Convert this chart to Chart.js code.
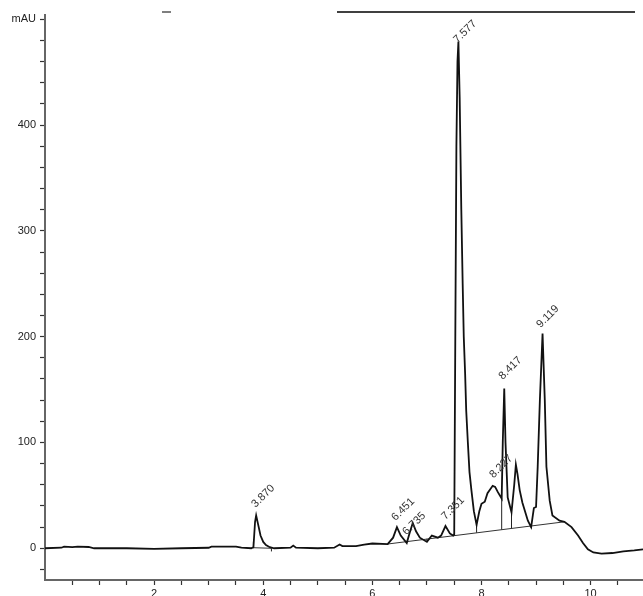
<!DOCTYPE html>
<html>
<head>
<meta charset="utf-8">
<script src="https://cdn.jsdelivr.net/npm/chart.js@4.4.1/dist/chart.umd.min.js"></script>
<style>
  body { margin: 0; background: #fff; }
  #wrap { width: 643px; height: 596px; position: relative; }
</style>
</head>
<body>
<div id="wrap"><canvas id="myChart"></canvas></div>
<script>
// retention time (min) and signal (mAU)
const times = [0.0, 0.3, 0.35, 0.5, 0.6, 0.8, 0.9, 1.5, 2.0, 2.5, 3.0, 3.05, 3.5, 3.6, 3.78,
  3.82, 3.85, 3.87, 3.9, 3.95, 4.0, 4.05, 4.12, 4.2, 4.5, 4.55, 4.6, 5.0, 5.3, 5.4, 5.45,
  5.5, 5.7, 5.85, 6.0, 6.28, 6.38, 6.45, 6.52, 6.63, 6.68, 6.74, 6.8, 6.87, 7.0, 7.09,
  7.2, 7.26, 7.34, 7.42, 7.48, 7.50, 7.52, 7.54, 7.56, 7.577, 7.60, 7.63, 7.655, 7.675,
  7.70, 7.72, 7.75, 7.78, 7.815, 7.86, 7.91, 7.96, 8.00, 8.06, 8.11, 8.205, 8.25, 8.30,
  8.37, 8.39, 8.417, 8.44, 8.48, 8.55, 8.60, 8.63, 8.66, 8.70, 8.75, 8.85, 8.91, 8.96,
  9.00, 9.03, 9.07, 9.119, 9.16, 9.19, 9.25, 9.30, 9.43, 9.52, 9.65, 9.77, 9.86, 9.95,
  10.05, 10.2, 10.4, 10.6, 10.8, 10.96];
const signal = [0, 0.5, 1.5, 1, 1.5, 1.2, 0, 0, -0.5, 0, 0.5, 1.5, 1.5, 0.5, 0,
  1, 25, 31, 24, 12, 6, 3, 1, 0, 0.5, 2.5, 0.5, 0, 0.5, 3.5, 2,
  2, 2, 3.5, 4.5, 4, 10, 20, 12, 5, 14, 24, 16, 10, 6, 12,
  10, 12, 21, 14, 12, 13, 200, 380, 460, 479, 426, 320, 250, 200,
  165, 130, 100, 72, 55, 35, 22, 35, 42, 44, 52, 59, 58, 53,
  47, 100, 151, 100, 48, 34, 60, 79, 70, 55, 43, 26, 20, 38,
  39, 77, 140, 203, 140, 77, 45, 31, 26, 25, 20, 12, 5, -1,
  -4, -5, -4.5, -3, -2, -1];

// integration baselines (start/end points)
const baseA = [{ x: 3.82, y: 0.5 }, { x: 4.15, y: 0 }];
const baseB = [{ x: 6.28, y: 4 }, { x: 9.52, y: 25 }];

// drop lines between baseline and trace
const dropX = [3.82, 4.15, 6.63, 7.0, 7.50, 7.91, 8.37, 8.55, 8.91];
const dropTop = [6, 0, 7, 9, 14, 22, 47, 34, 21];
const dropBottom = [0, -3, 5, 6, 12, 14.6, 17.5, 18.7, 19];

// peak labels and where each label text starts
const peakNames = ['3.870', '6.451', '6.735', '7.351', '7.577', '8.227', '8.417', '9.119'];
const labelX = [3.86, 6.425, 6.627, 7.34, 7.56, 8.22, 8.39, 9.08];
const labelY = [38, 25.5, 12, 26.5, 477, 66, 159, 208];

// axis ticks
const xTickValues = [0.5, 1, 1.5, 2, 2.5, 3, 3.5, 4, 4.5, 5, 5.5, 6, 6.5, 7, 7.5, 8, 8.5, 9, 9.5, 10, 10.5];
const xTickLabels = [2, 4, 6, 8, 10];
const yTickValues = [-20, 0, 20, 40, 60, 80, 100, 120, 140, 160, 180, 200, 220, 240, 260, 280,
  300, 320, 340, 360, 380, 400, 420, 440, 460, 480, 500];
const yTickLabels = [0, 100, 200, 300, 400];
const yUnitTick = 500;

const traceData = times.map((t, i) => ({ x: t, y: signal[i] }));

function dropDatasets() {
    const sets = [];
    for (let i = 0; i < dropX.length; i++) {
        sets.push({
            data: [{ x: dropX[i], y: dropBottom[i] }, { x: dropX[i], y: dropTop[i] }],
            borderColor: '#222',
            borderWidth: 1,
            pointRadius: 0,
            tension: 0
        });
    }
    return sets;
}

const peakLabels = {
    id: 'peakLabels',
    afterDatasetsDraw(chart) {
        const ctx = chart.ctx;
        const xs = chart.scales.x;
        const ys = chart.scales.y;
        ctx.save();
        ctx.font = '11px "Liberation Sans", Arial, sans-serif';
        ctx.fillStyle = '#333';
        ctx.textBaseline = 'alphabetic';
        ctx.textAlign = 'left';
        for (let i = 0; i < peakNames.length; i++) {
            ctx.save();
            ctx.translate(xs.getPixelForValue(labelX[i]), ys.getPixelForValue(labelY[i]));
            ctx.rotate(-Math.PI / 4);
            ctx.fillText(peakNames[i], 0, 0);
            ctx.restore();
        }
        // leftover header rules at the very top
        ctx.strokeStyle = '#000';
        ctx.lineWidth = 1.5;
        ctx.beginPath();
        ctx.moveTo(337, 12);
        ctx.lineTo(635, 12);
        ctx.stroke();
        ctx.strokeStyle = '#555';
        ctx.beginPath();
        ctx.moveTo(162, 12);
        ctx.lineTo(171, 12);
        ctx.stroke();
        ctx.restore();
    }
};

const ctx = document.getElementById('myChart').getContext('2d');
const myChart = new Chart(ctx, {
    type: 'line',
    data: {
        datasets: [{
            label: 'Signal',
            data: traceData,
            borderColor: '#111',
            borderWidth: 1.8,
            pointRadius: 0,
            tension: 0
        }, {
            label: 'Baseline A',
            data: baseA,
            borderColor: '#333',
            borderWidth: 1,
            pointRadius: 0
        }, {
            label: 'Baseline B',
            data: baseB,
            borderColor: '#333',
            borderWidth: 1,
            pointRadius: 0
        }].concat(dropDatasets())
    },
    options: {
        responsive: true,
        maintainAspectRatio: false,
        animation: false,
        layout: { padding: { top: 15, right: 0, left: 0, bottom: 0 } },
        plugins: {
            legend: { display: false },
            tooltip: { enabled: false }
        },
        scales: {
            x: {
                type: 'linear',
                min: 0,
                max: 10.96,
                afterBuildTicks: (scale) => { scale.ticks = xTickValues.map(v => ({ value: v })); },
                afterFit: (scale) => { scale.height = 16; },
                grid: { drawOnChartArea: false, drawTicks: true, tickLength: 5, tickColor: '#333', tickWidth: 1.2 },
                border: { display: true, color: '#666', width: 2 },
                ticks: {
                    autoSkip: false,
                    maxRotation: 0,
                    padding: 2,
                    color: '#222',
                    font: { family: '"Liberation Sans", Arial, sans-serif', size: 11 },
                    callback: (value) => xTickLabels.includes(value) ? String(value) : ''
                }
            },
            y: {
                type: 'linear',
                min: -30,
                max: 504,
                afterBuildTicks: (scale) => { scale.ticks = yTickValues.map(v => ({ value: v })); },
                afterFit: (scale) => { scale.width = 45; },
                grid: { drawOnChartArea: false, drawTicks: true, tickLength: 5, tickColor: '#333', tickWidth: 1.2 },
                border: { display: true, color: '#666', width: 2 },
                ticks: {
                    autoSkip: false,
                    padding: 4,
                    color: '#222',
                    font: { family: '"Liberation Sans", Arial, sans-serif', size: 11 },
                    callback: (value) => {
                        if (value === yUnitTick) return 'mAU';
                        return yTickLabels.includes(value) ? String(value) : '';
                    }
                }
            }
        }
    },
    plugins: [peakLabels]
});
</script>
</body>
</html>
